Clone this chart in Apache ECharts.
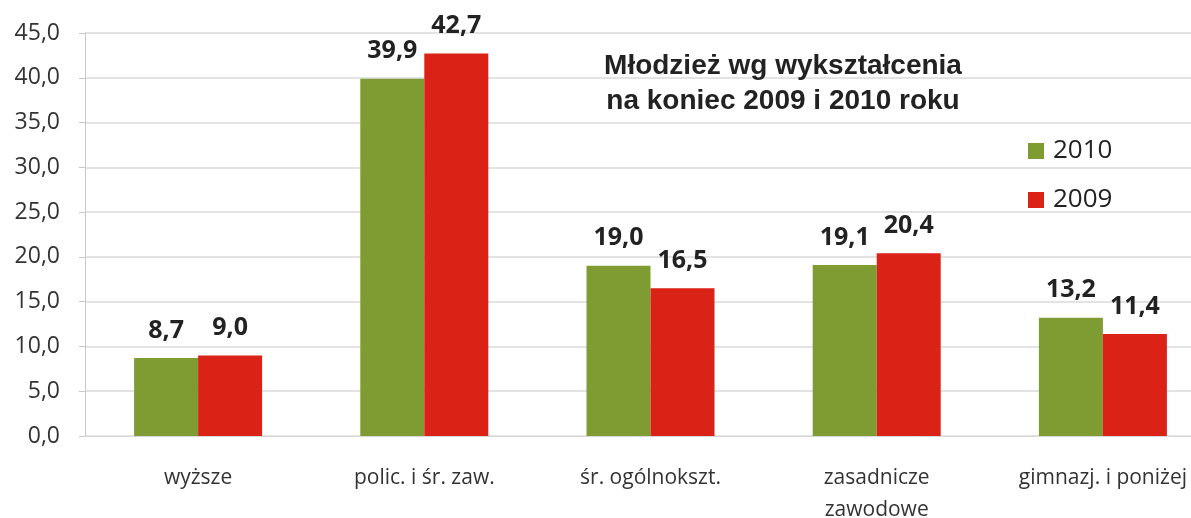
<!DOCTYPE html>
<html>
<head>
<meta charset="utf-8">
<script src="https://cdn.jsdelivr.net/npm/echarts@6/dist/echarts.min.js"></script>
<style>
  html, body { margin: 0; padding: 0; background: #fff; }
  #chart { width: 1191px; height: 518px; }
</style>
</head>
<body>
<div id="chart"></div>
<script>
// data
var categories = ['wyższe', 'polic. i śr. zaw.', 'śr. ogólnokszt.', 'zasadnicze\nzawodowe', 'gimnazj. i poniżej']
var values2010 = [8.7, 39.9, 19.0, 19.1, 13.2]
var values2009 = [9.0, 42.7, 16.5, 20.4, 11.4]

function fmt (v) {
  return v.toFixed(1).replace('.', ',')
}

var chart = echarts.init(document.getElementById('chart'))

var labelStyle = {
  show: true,
  position: 'top',
  distance: 15,
  fontFamily: 'Open Sans',
  fontWeight: 'bold',
  fontSize: 25,
  color: '#222',
  formatter: function (p) { return fmt(p.value) }
}

var options = {
  animation: false,
  backgroundColor: '#fff',
  title: {
    text: 'Młodzież wg wykształcenia\nna koniec 2009 i 2010 roku',
    left: 778,
    top: 44,
    textAlign: 'center',
    textStyle: {
      fontFamily: 'Liberation Sans',
      fontWeight: 'bold',
      fontSize: 28,
      lineHeight: 35,
      color: '#222'
    }
  },
  legend: {
    orient: 'vertical',
    left: 1023,
    top: 133,
    itemWidth: 16,
    itemHeight: 16,
    itemGap: 23,
    icon: 'rect',
    textStyle: { fontFamily: 'Open Sans', fontSize: 26, lineHeight: 26, color: '#222', padding: [0, 0, 0, 4] },
    data: ['2010', '2009']
  },
  grid: {
    left: 85,
    top: 33,
    right: -25,
    bottom: 82,
    outerBoundsMode: 'none'
  },
  xAxis: {
    type: 'category',
    data: categories,
    axisLine: { lineStyle: { color: '#d8d8d8' } },
    axisTick: { show: false },
    axisLabel: {
      interval: 0,
      margin: 26,
      fontFamily: 'Open Sans',
      fontSize: 21,
      lineHeight: 32,
      color: '#333'
    }
  },
  yAxis: {
    type: 'value',
    min: 0,
    max: 45,
    interval: 5,
    axisLine: { show: true, lineStyle: { color: '#c8c8c8' } },
    axisTick: { show: true, inside: false, length: 6, lineStyle: { color: '#c8c8c8' } },
    splitLine: { lineStyle: { color: '#e3e3e3', width: 2 } },
    axisLabel: {
      fontFamily: 'Open Sans',
      fontSize: 23,
      color: '#333',
      margin: 25,
      formatter: function (v) { return fmt(v) }
    }
  },
  series: [
    {
      name: '2010',
      type: 'bar',
      data: values2010,
      barWidth: 64,
      barGap: '0%',
      itemStyle: { color: '#7f9c32' },
      label: labelStyle
    },
    {
      name: '2009',
      type: 'bar',
      data: values2009,
      barWidth: 64,
      barGap: '0%',
      itemStyle: { color: '#da2217' },
      label: labelStyle
    }
  ]
}

chart.setOption(options)
</script>
</body>
</html>
